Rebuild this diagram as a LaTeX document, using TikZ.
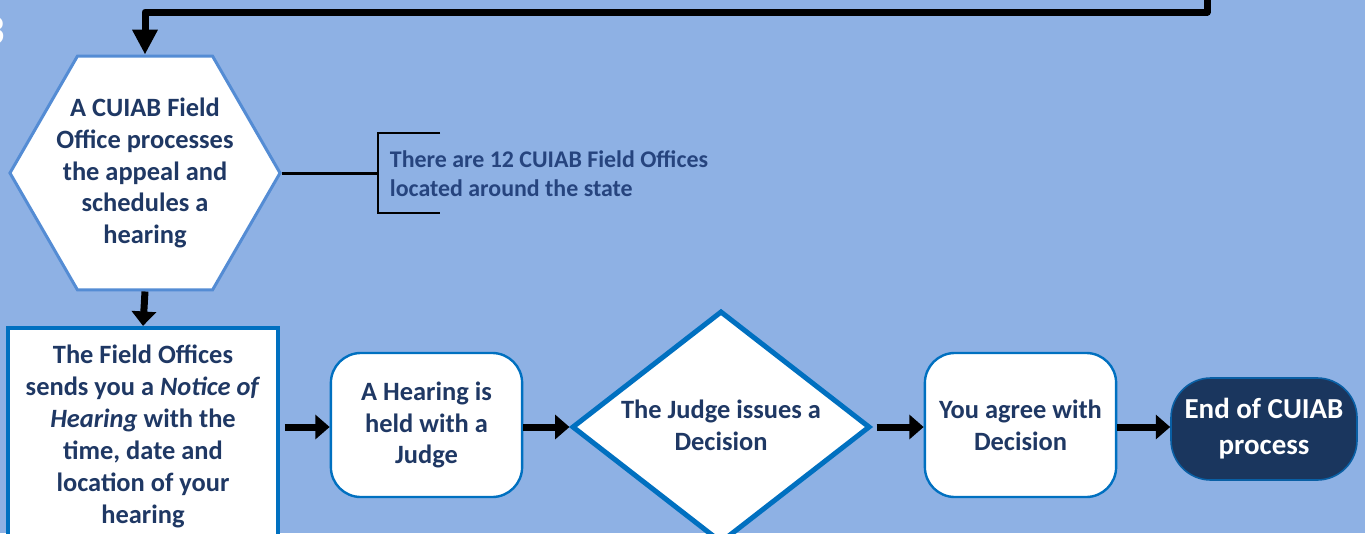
\documentclass[tikz,border=0pt]{standalone}
\usepackage{fontspec}
\setmainfont{Carlito}
\usetikzlibrary{shapes.geometric}
\usetikzlibrary{arrows.meta}
\usetikzlibrary{positioning}

\definecolor{bgblue}{RGB}{142,177,228}
\definecolor{navy}{RGB}{31,56,100}
\definecolor{boxblue}{RGB}{0,112,192}
\definecolor{hexblue}{RGB}{84,140,212}
\definecolor{notecol}{RGB}{38,68,126}
\definecolor{endfill}{RGB}{26,54,94}

\begin{document}
\begin{tikzpicture}[
x=0.025cm, y=-0.025cm,
txt/.style={
font=\fontsize{18.8}{22.7}\selectfont\bfseries,
text=navy,
align=center
},
hex/.style={
draw=hexblue,
line width=0.075cm,
fill=white,
regular polygon,
regular polygon sides=6,
minimum size=6.75cm,
inner sep=0pt
},
roundbox/.style={
txt,
draw=boxblue,
line width=0.06cm,
fill=white,
rounded corners=0.75cm,
minimum width=4.78cm,
minimum height=3.6cm,
inner sep=0pt
},
flow/.style={
line width=0.175cm,
-{Triangle[width=0.6cm,length=0.36cm]}
}
]

\fill[bgblue] (0,0) rectangle (1365,533);
\useasboundingbox (0,0) rectangle (1365,533);

\node[font=\fontsize{30}{30}\selectfont\bfseries, text=white, anchor=east, inner sep=0pt] (stepnum) at (5,31) {3};

\node[hex] (hex) at (145,173) {};
\node[txt] (hextext) at (hex.center) {A CUIAB Field\\Office processes\\the appeal and\\schedules a\\hearing};

\node[txt, draw=boxblue, line width=0.1cm, fill=white, minimum width=6.75cm, minimum height=5.43cm, inner sep=0pt] (notice) at (143,436.5)
{The Field Offices\\sends you a \textit{Notice of}\\\textit{Hearing} with the\\time, date and\\location of your\\hearing};

\node[roundbox] (hearing) at (426.5,425) {A Hearing is\\held with a\\Judge};

\node[diamond, draw=boxblue, line width=0.125cm, fill=white, minimum width=7.45cm, minimum height=5.8cm, inner sep=0pt] (decision) at (721,427) {};
\node[txt] (decisiontext) at ([yshift=0.05cm]decision.center) {The Judge issues a\\Decision};

\node[roundbox] (agree) at (1020.5,425) {You agree with\\Decision};

\node[roundbox, fill=endfill, draw=boxblue!70!navy, line width=0.04cm, text=white, font=\fontsize{20.6}{25.5}\selectfont\bfseries, minimum width=4.65cm, minimum height=2.55cm, rounded corners=1cm] (endnode) at (1264,429) {End of CUIAB\\process};

% annotation with bracket
\coordinate (brk) at (378,173);
\draw[line width=0.075cm] (hex.east) -- (brk);
\draw[line width=0.06cm] (440,133) -| (brk) |- (440,213);
\node[font=\fontsize{17}{20.6}\selectfont\bfseries, text=notecol, align=left, anchor=west] (note) at (385,174)
{There are 12 CUIAB Field Offices\\located around the state};

% connectors
\coordinate (topstart) at (1207,-5);
\draw[line width=0.175cm, line join=round, -{Triangle[width=0.6cm,length=0.62cm]}] (topstart) -- ++(0,17) -| (hex.north);
\draw[flow] (hex.south) -- (notice.north);
\draw[flow] ([xshift=0.12cm]notice.east |- decision.west) -- (hearing.west |- decision.west);
\draw[flow] (hearing.east |- decision.west) -- (decision.west);
\draw[flow] ([xshift=0.1cm]decision.east) -- (agree.west |- decision.east);
\draw[flow] (agree.east |- decision.east) -- (endnode.west |- decision.east);

\end{tikzpicture}
\end{document}
